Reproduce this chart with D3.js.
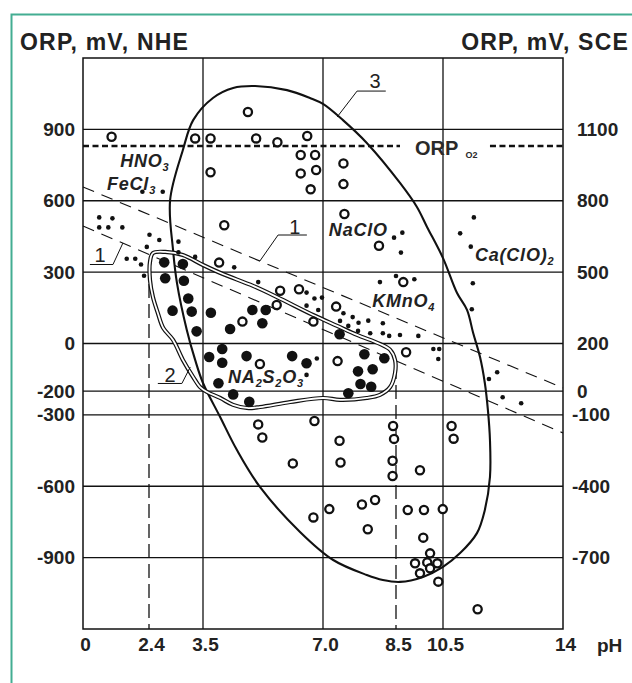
<!DOCTYPE html>
<html>
<head>
<meta charset="utf-8">
<script src="https://cdn.jsdelivr.net/npm/d3@7/dist/d3.min.js"></script>
<style>
  body { margin: 0; background: #fff; }
  svg { display: block; font-family: "Liberation Sans", Arial, sans-serif; }
</style>
</head>
<body>
<div id="chart"></div>
<script>
// pH axis: the original figure is schematic, 2.4 and 8.5 are not to scale
var pHTicks = [0, 2.4, 3.5, 7.0, 8.5, 10.5, 14];
var pHTickLabels = ['0', '2.4', '3.5', '7.0', '8.5', '10.5', '14'];
var pHGrid = [3.5, 7.0, 10.5];
var pHMarkers = [2.4, 8.5];

var nheTicks = [900, 600, 300, 0, -200, -300, -600, -900];
var sceTicks = [1100, 800, 500, 200, 0, -100, -400, -700];

var orpO2 = 830; // mV, NHE

// dashed lines "1"
var line1Upper = [[0, 658], [14, -187]];
var line1Lower = [[0, 494], [14, -376]];

// [pH, ORP mV NHE]
var openPoints = [
  [1.04, 869], [3.34, 862], [3.72, 862], [4.81, 973], [5.05, 862], [5.67, 846], [6.54, 872],
  [3.72, 720], [6.35, 792], [6.77, 792], [6.35, 715], [6.80, 729], [6.64, 648],
  [7.42, 757], [7.42, 670], [7.44, 544], [4.12, 497], [3.97, 340], [5.75, 222], [6.30, 228],
  [8.15, 411], [8.81, 258], [5.65, 162], [4.65, 92], [6.72, 92], [7.27, 155],
  [5.16, -86], [7.30, -74], [8.93, -37],
  [5.11, -340], [5.23, -395], [6.75, -326], [7.34, -409], [6.12, -504], [7.36, -500],
  [8.44, -347], [8.46, -401], [8.43, -493], [8.43, -557], [10.75, -347], [10.81, -400], [9.52, -533],
  [6.72, -731], [7.13, -696], [7.80, -677], [8.07, -658], [7.92, -781],
  [9.0, -700], [9.69, -700], [10.49, -696], [9.66, -816],
  [9.95, -882], [9.31, -924], [9.83, -920], [10.26, -924], [9.52, -966], [9.95, -945], [10.30, -1001],
  [11.51, -1117]
];

var filledPoints = [
  [2.71, 341], [3.09, 334], [2.73, 274], [3.11, 264], [3.20, 189], [2.88, 138], [3.27, 134],
  [3.73, 129], [3.37, 51], [4.29, 61], [4.94, 141], [5.33, 141], [5.23, 85],
  [4.06, -23], [3.68, -57], [4.06, -81], [4.77, -53], [6.10, -53], [6.52, -83],
  [3.95, -167], [4.38, -214], [4.85, -245],
  [7.34, 39], [7.72, -117], [7.77, -170], [7.52, -209], [7.85, -45], [8.26, -62], [8.02, -108], [7.99, -182]
];

var smallDots = [
  [2.16, 638], [2.68, 638], [0.59, 530], [1.07, 526], [0.59, 488], [0.92, 488], [1.43, 488],
  [2.41, 457], [2.61, 435], [3.0, 428], [2.32, 406], [3.0, 383], [3.34, 364], [1.59, 356],
  [1.90, 356], [2.11, 332], [4.41, 320], [2.22, 285], [5.11, 258],
  [6.52, 214], [6.75, 189], [6.97, 193], [6.52, 159], [6.86, 141], [7.42, 127], [7.61, 111],
  [7.35, 95], [7.52, 74], [7.73, 87], [7.93, 96], [7.72, 53], [7.97, 43], [8.23, 85], [8.23, 43],
  [8.36, 32], [8.67, 36], [9.45, 32], [10.09, -23], [10.34, -23], [10.30, -65],
  [6.82, -63], [6.52, -132], [11.84, -149], [12.08, -121], [12.24, -226], [12.78, -251],
  [11.40, 530], [8.77, 466], [8.46, 445], [11.0, 463], [8.71, 382], [11.31, 407],
  [11.37, 253], [11.34, 144], [8.17, 258], [8.5, 284], [9.28, 270]
];

// zone 3 (large ellipse) traced outline
var zone3Outline = [
  [5.02, 1082], [5.95, 1065], [6.62, 1032], [7.0, 1007], [7.41, 939], [7.90, 843], [8.67, 675],
  [9.39, 574], [9.82, 490], [10.5, 359], [10.91, 212], [11.2, 141], [11.38, 44], [11.58, -57],
  [11.72, -166], [11.81, -280], [11.87, -406], [11.87, -561], [11.72, -700], [11.49, -797],
  [11.0, -881], [10.5, -939], [9.65, -981], [8.67, -1002], [8.23, -994], [7.90, -973],
  [7.21, -910], [6.33, -792], [5.16, -603], [4.49, -448], [4.0, -309], [3.5, -166],
  [3.34, -69], [3.17, 57], [2.97, 254], [2.89, 393], [2.83, 603], [3.09, 813], [3.30, 939],
  [3.79, 1032], [4.38, 1074]
];

// zone 2 (double contour) traced outline
var zone2Outline = [
  [2.48, 380], [2.73, 385], [3.09, 372], [3.5, 330], [4.08, 292], [4.96, 242], [5.66, 195],
  [6.71, 120], [7.29, 74], [7.70, 36], [8.17, -2], [8.38, -27], [8.48, -69], [8.48, -124],
  [8.38, -183], [8.17, -216], [7.90, -229], [7.35, -237], [7.0, -229], [6.04, -246],
  [5.16, -267], [4.78, -271], [4.38, -258], [4.0, -229], [3.62, -204], [3.44, -183],
  [3.30, -141], [3.09, -69], [2.89, 15], [2.69, 65], [2.58, 128], [2.48, 195], [2.42, 267],
  [2.42, 343]
];

// chemical labels, anchored at [pH, mV] of text start / baseline
var chemLabels = [
  {parts: [['HNO', 0], ['3', 1]], pH: 1.35, mv: 740},
  {parts: [['FeCl', 0], ['3', 1]], pH: 0.87, mv: 645},
  {parts: [['NaClO', 0]], pH: 7.12, mv: 452},
  {parts: [['Ca(ClO)', 0], ['2', 1]], pH: 11.43, mv: 345},
  {parts: [['KMnO', 0], ['4', 1]], pH: 8.01, mv: 155},
  {parts: [['NA', 0], ['2', 1], ['S', 0], ['2', 1], ['O', 0], ['3', 1]], pH: 4.23, mv: -165}
];

// numbered callouts: text position, underline ends, leader end
var callouts = [
  {text: '3', at: [8.07, 1074], under: [[7.70, 1061], [8.29, 1061]], to: [7.29, 952]},
  {text: '1', at: [0.62, 343], under: [[1.09, 332], [0.25, 332]], to: [1.45, 422]},
  {text: '1', at: [6.18, 460], under: [[5.69, 456], [6.53, 456]], to: [5.16, 347]},
  {text: '2', at: [2.83, -162], under: [[3.07, -168], [2.58, -168]], to: [3.24, -99]}
];

var width = 632, height = 683;
var margin = {top: 58, left: 83};
var plotW = 480, plotH = 571;
var ink = '#111', textInk = '#222';

var svg = d3.select('#chart').append('svg')
  .attr('width', width).attr('height', height);

// teal frame of the figure
svg.append('path')
  .attr('d', 'M11.5,' + height + 'V14.5H' + width)
  .attr('fill', 'none').attr('stroke', '#43ad92').attr('stroke-width', 2);

var g = svg.append('g').attr('transform', 'translate(' + margin.left + ',' + margin.top + ')');

var x = d3.scaleLinear().domain(pHTicks).range([0, 66, 120, 240, 313, 360, 480]);
var y = d3.scaleLinear().domain([-1200, 1200]).range([plotH, 0]);
var ySCE = d3.scaleLinear().domain([-1000, 1400]).range([plotH, 0]);

// grid
g.append('g').selectAll('line').data(nheTicks).enter().append('line')
  .attr('x1', 0).attr('x2', plotW)
  .attr('y1', function(d) { return y(d); }).attr('y2', function(d) { return y(d); })
  .attr('stroke', ink).attr('stroke-width', 1.3);
g.append('g').selectAll('line').data(pHGrid).enter().append('line')
  .attr('x1', function(d) { return x(d); }).attr('x2', function(d) { return x(d); })
  .attr('y1', 0).attr('y2', plotH)
  .attr('stroke', ink).attr('stroke-width', 1.3);

// dashed pH markers 2.4 and 8.5
var markerTop = [250, -90];
g.append('g').selectAll('line').data(pHMarkers).enter().append('line')
  .attr('x1', function(d) { return x(d); }).attr('x2', function(d) { return x(d); })
  .attr('y1', function(d, i) { return y(markerTop[i]); }).attr('y2', plotH)
  .attr('stroke', ink).attr('stroke-width', 1.3).attr('stroke-dasharray', '14,6');

var line = d3.line().x(function(d) { return x(d[0]); }).y(function(d) { return y(d[1]); });

// lines "1"
[line1Upper, line1Lower].forEach(function(l) {
  g.append('path').attr('d', line(l))
    .attr('fill', 'none').attr('stroke', ink).attr('stroke-width', 1.1)
    .attr('stroke-dasharray', '12,8');
});

// ORP of O2, interrupted by its label
[[0, 8.67], [11.87, 14]].forEach(function(seg) {
  g.append('path').attr('d', line([[seg[0], orpO2], [seg[1], orpO2]]))
    .attr('fill', 'none').attr('stroke', ink).attr('stroke-width', 2.6)
    .attr('stroke-dasharray', '6,3.5');
});
var o2 = g.append('text')
  .attr('x', x(9.31)).attr('y', y(orpO2) + 9)
  .attr('font-size', 20).attr('font-weight', 'bold').attr('fill', '#2a2a2a').text('ORP');
o2.append('tspan').attr('dx', 7).attr('dy', 3).attr('font-size', 9).text('O2');

// zone 3
g.append('path')
  .attr('d', line.curve(d3.curveCatmullRomClosed.alpha(0.5))(zone3Outline))
  .attr('fill', 'none').attr('stroke', ink).attr('stroke-width', 2.1);

// zone 2, double line
var zone2 = line.curve(d3.curveCatmullRomClosed.alpha(0.5))(zone2Outline);
g.append('path').attr('d', zone2).attr('fill', 'none').attr('stroke', ink).attr('stroke-width', 4.2);
g.append('path').attr('d', zone2).attr('fill', 'none').attr('stroke', '#fff').attr('stroke-width', 1.8);
line.curve(d3.curveLinear);

// points
g.append('g').selectAll('circle').data(smallDots).enter().append('circle')
  .attr('cx', function(d) { return x(d[0]); }).attr('cy', function(d) { return y(d[1]); })
  .attr('r', 2.3).attr('fill', ink);
g.append('g').selectAll('circle').data(filledPoints).enter().append('circle')
  .attr('cx', function(d) { return x(d[0]); }).attr('cy', function(d) { return y(d[1]); })
  .attr('r', 5.3).attr('fill', ink);
g.append('g').selectAll('circle').data(openPoints).enter().append('circle')
  .attr('cx', function(d) { return x(d[0]); }).attr('cy', function(d) { return y(d[1]); })
  .attr('r', 4.1).attr('fill', '#fff').attr('stroke', ink).attr('stroke-width', 2.3);

// chemical labels
chemLabels.forEach(function(c) {
  var t = g.append('text')
    .attr('x', x(c.pH)).attr('y', y(c.mv))
    .attr('font-size', 18).attr('font-weight', 'bold').attr('font-style', 'italic')
    .attr('letter-spacing', 0.8).attr('fill', textInk);
  var prevSub = 0;
  c.parts.forEach(function(p) {
    var dy = p[1] ? 4 : (prevSub ? -4 : 0);
    t.append('tspan').attr('dy', dy).attr('font-size', p[1] ? 11 : 18).text(p[0]);
    prevSub = p[1];
  });
});

// numbered callouts
callouts.forEach(function(c) {
  g.append('path')
    .attr('d', line([c.under[1], c.under[0], c.to]))
    .attr('fill', 'none').attr('stroke', ink).attr('stroke-width', 1);
  g.append('text')
    .attr('x', x(c.at[0])).attr('y', y(c.at[1]))
    .attr('text-anchor', 'middle').attr('font-size', 20).attr('fill', textInk)
    .text(c.text);
});

// plot frame
g.append('rect').attr('width', plotW).attr('height', plotH)
  .attr('fill', 'none').attr('stroke', ink).attr('stroke-width', 1.5);

// axes
var axisLeft = g.append('g')
  .call(d3.axisLeft(y).tickValues(nheTicks).tickSize(0).tickPadding(8)
    .tickFormat(function(d) { return String(d); }));
var axisRight = g.append('g').attr('transform', 'translate(' + plotW + ',0)')
  .call(d3.axisRight(ySCE).tickValues(sceTicks).tickSize(0).tickPadding(14)
    .tickFormat(function(d) { return String(d); }));
axisRight.selectAll('text').attr('dx', function(d) { return d < 0 ? -5 : 0; });
var axisBottom = g.append('g').attr('transform', 'translate(0,' + plotH + ')')
  .call(d3.axisBottom(x).tickValues(pHTicks).tickSize(0).tickPadding(9)
    .tickFormat(function(d, i) { return pHTickLabels[i]; }));
axisBottom.selectAll('text').attr('dx', 2);

[axisLeft, axisRight, axisBottom].forEach(function(a) {
  a.select('.domain').remove();
  a.selectAll('text')
    .attr('font-family', '"Liberation Sans", Arial, sans-serif')
    .attr('font-size', 19).attr('font-weight', 'bold').attr('fill', textInk);
});

// titles
svg.append('text').attr('x', 597).attr('y', 652)
  .attr('font-size', 19).attr('font-weight', 'bold').attr('fill', textInk).text('pH');
svg.append('text').attr('x', 20).attr('y', 50)
  .attr('font-size', 23).attr('font-weight', 'bold').attr('letter-spacing', 1.2)
  .attr('fill', textInk).text('ORP, mV, NHE');
svg.append('text').attr('x', 629).attr('y', 50).attr('text-anchor', 'end')
  .attr('font-size', 23).attr('font-weight', 'bold').attr('letter-spacing', 1.2)
  .attr('fill', textInk).text('ORP, mV, SCE');
</script>
</body>
</html>
